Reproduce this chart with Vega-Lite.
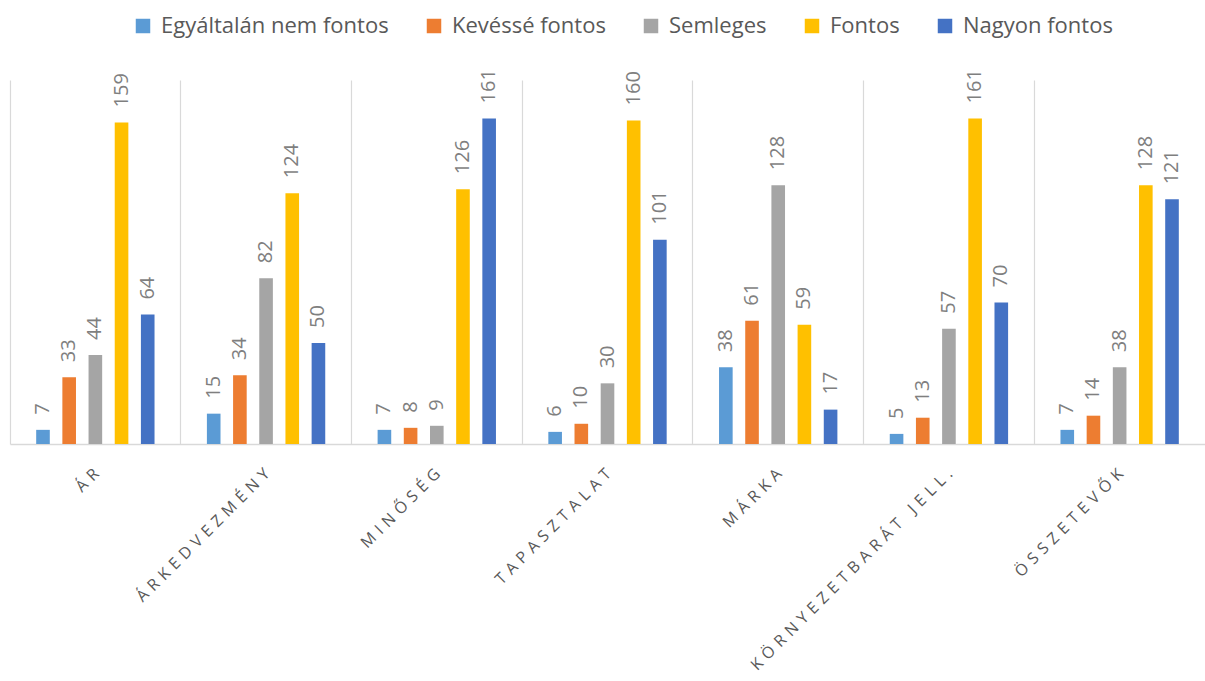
{
  "$schema": "https://vega.github.io/schema/vega-lite/v6.json",
  "width": 1195,
  "height": 364,
  "autosize": {"type": "none"},
  "padding": {"left": 10, "top": 80, "right": 0, "bottom": 237},
  "background": "white",
  "config": {"view": {"stroke": null}},
  "data": {
    "values": [
      {"cat": "ÁR", "level": "Egyáltalán nem fontos", "value": 7},
      {"cat": "ÁR", "level": "Kevéssé fontos", "value": 33},
      {"cat": "ÁR", "level": "Semleges", "value": 44},
      {"cat": "ÁR", "level": "Fontos", "value": 159},
      {"cat": "ÁR", "level": "Nagyon fontos", "value": 64},
      {"cat": "ÁRKEDVEZMÉNY", "level": "Egyáltalán nem fontos", "value": 15},
      {"cat": "ÁRKEDVEZMÉNY", "level": "Kevéssé fontos", "value": 34},
      {"cat": "ÁRKEDVEZMÉNY", "level": "Semleges", "value": 82},
      {"cat": "ÁRKEDVEZMÉNY", "level": "Fontos", "value": 124},
      {"cat": "ÁRKEDVEZMÉNY", "level": "Nagyon fontos", "value": 50},
      {"cat": "MINŐSÉG", "level": "Egyáltalán nem fontos", "value": 7},
      {"cat": "MINŐSÉG", "level": "Kevéssé fontos", "value": 8},
      {"cat": "MINŐSÉG", "level": "Semleges", "value": 9},
      {"cat": "MINŐSÉG", "level": "Fontos", "value": 126},
      {"cat": "MINŐSÉG", "level": "Nagyon fontos", "value": 161},
      {"cat": "TAPASZTALAT", "level": "Egyáltalán nem fontos", "value": 6},
      {"cat": "TAPASZTALAT", "level": "Kevéssé fontos", "value": 10},
      {"cat": "TAPASZTALAT", "level": "Semleges", "value": 30},
      {"cat": "TAPASZTALAT", "level": "Fontos", "value": 160},
      {"cat": "TAPASZTALAT", "level": "Nagyon fontos", "value": 101},
      {"cat": "MÁRKA", "level": "Egyáltalán nem fontos", "value": 38},
      {"cat": "MÁRKA", "level": "Kevéssé fontos", "value": 61},
      {"cat": "MÁRKA", "level": "Semleges", "value": 128},
      {"cat": "MÁRKA", "level": "Fontos", "value": 59},
      {"cat": "MÁRKA", "level": "Nagyon fontos", "value": 17},
      {"cat": "KÖRNYEZETBARÁT JELL.", "level": "Egyáltalán nem fontos", "value": 5},
      {"cat": "KÖRNYEZETBARÁT JELL.", "level": "Kevéssé fontos", "value": 13},
      {"cat": "KÖRNYEZETBARÁT JELL.", "level": "Semleges", "value": 57},
      {"cat": "KÖRNYEZETBARÁT JELL.", "level": "Fontos", "value": 161},
      {"cat": "KÖRNYEZETBARÁT JELL.", "level": "Nagyon fontos", "value": 70},
      {"cat": "ÖSSZETEVŐK", "level": "Egyáltalán nem fontos", "value": 7},
      {"cat": "ÖSSZETEVŐK", "level": "Kevéssé fontos", "value": 14},
      {"cat": "ÖSSZETEVŐK", "level": "Semleges", "value": 38},
      {"cat": "ÖSSZETEVŐK", "level": "Fontos", "value": 128},
      {"cat": "ÖSSZETEVŐK", "level": "Nagyon fontos", "value": 121}
    ]
  },
  "encoding": {
    "x": {
      "field": "cat",
      "type": "nominal",
      "sort": ["ÁR", "ÁRKEDVEZMÉNY", "MINŐSÉG", "TAPASZTALAT", "MÁRKA", "KÖRNYEZETBARÁT JELL.", "ÖSSZETEVŐK"],
      "scale": {"paddingInner": 0, "paddingOuter": 0},
      "axis": {
        "title": null,
        "grid": true,
        "bandPosition": 0,
        "gridColor": "#d9d9d9",
        "gridWidth": 1.2,
        "domainColor": "#d9d9d9",
        "domainWidth": 1.5,
        "ticks": false,
        "labelAngle": -45,
        "labelAlign": "right",
        "labelBaseline": "middle",
        "labelPadding": 27,
        "labelOffset": 1,
        "labelFont": "Open Sans",
        "labelFontSize": 16,
        "labelColor": "#595959",
        "labelLimit": 0,
        "labelExpr": "join(split(datum.label, ''), '\u2004')"
      }
    },
    "xOffset": {
      "field": "level",
      "type": "nominal",
      "sort": ["Egyáltalán nem fontos", "Kevéssé fontos", "Semleges", "Fontos", "Nagyon fontos"],
      "scale": {"paddingInner": 0.48, "paddingOuter": 1.15}
    },
    "y": {
      "field": "value",
      "type": "quantitative",
      "scale": {"domain": [0, 180]},
      "axis": null
    }
  },
  "layer": [
    {
      "mark": {"type": "bar"},
      "encoding": {
        "color": {
          "field": "level",
          "type": "nominal",
          "sort": ["Egyáltalán nem fontos", "Kevéssé fontos", "Semleges", "Fontos", "Nagyon fontos"],
          "scale": {
            "domain": ["Egyáltalán nem fontos", "Kevéssé fontos", "Semleges", "Fontos", "Nagyon fontos"],
            "range": ["#5B9BD5", "#ED7D31", "#A5A5A5", "#FFC000", "#4472C4"]
          },
          "legend": {
            "title": null,
            "orient": "none",
            "direction": "horizontal",
            "legendX": 122,
            "legendY": -65,
            "symbolType": "square",
            "symbolSize": 210,
            "symbolStrokeWidth": 0,
            "labelFont": "Open Sans",
            "labelFontSize": 22,
            "labelColor": "#595959",
            "labelOffset": 7,
            "labelLimit": 0,
            "columnPadding": 34
          }
        }
      }
    },
    {
      "mark": {
        "type": "text",
        "angle": -90,
        "align": "left",
        "baseline": "middle",
        "dx": 15,
        "font": "Open Sans",
        "fontSize": 20,
        "color": "#7f7f7f"
      },
      "encoding": {"text": {"field": "value", "type": "quantitative"}}
    }
  ]
}
